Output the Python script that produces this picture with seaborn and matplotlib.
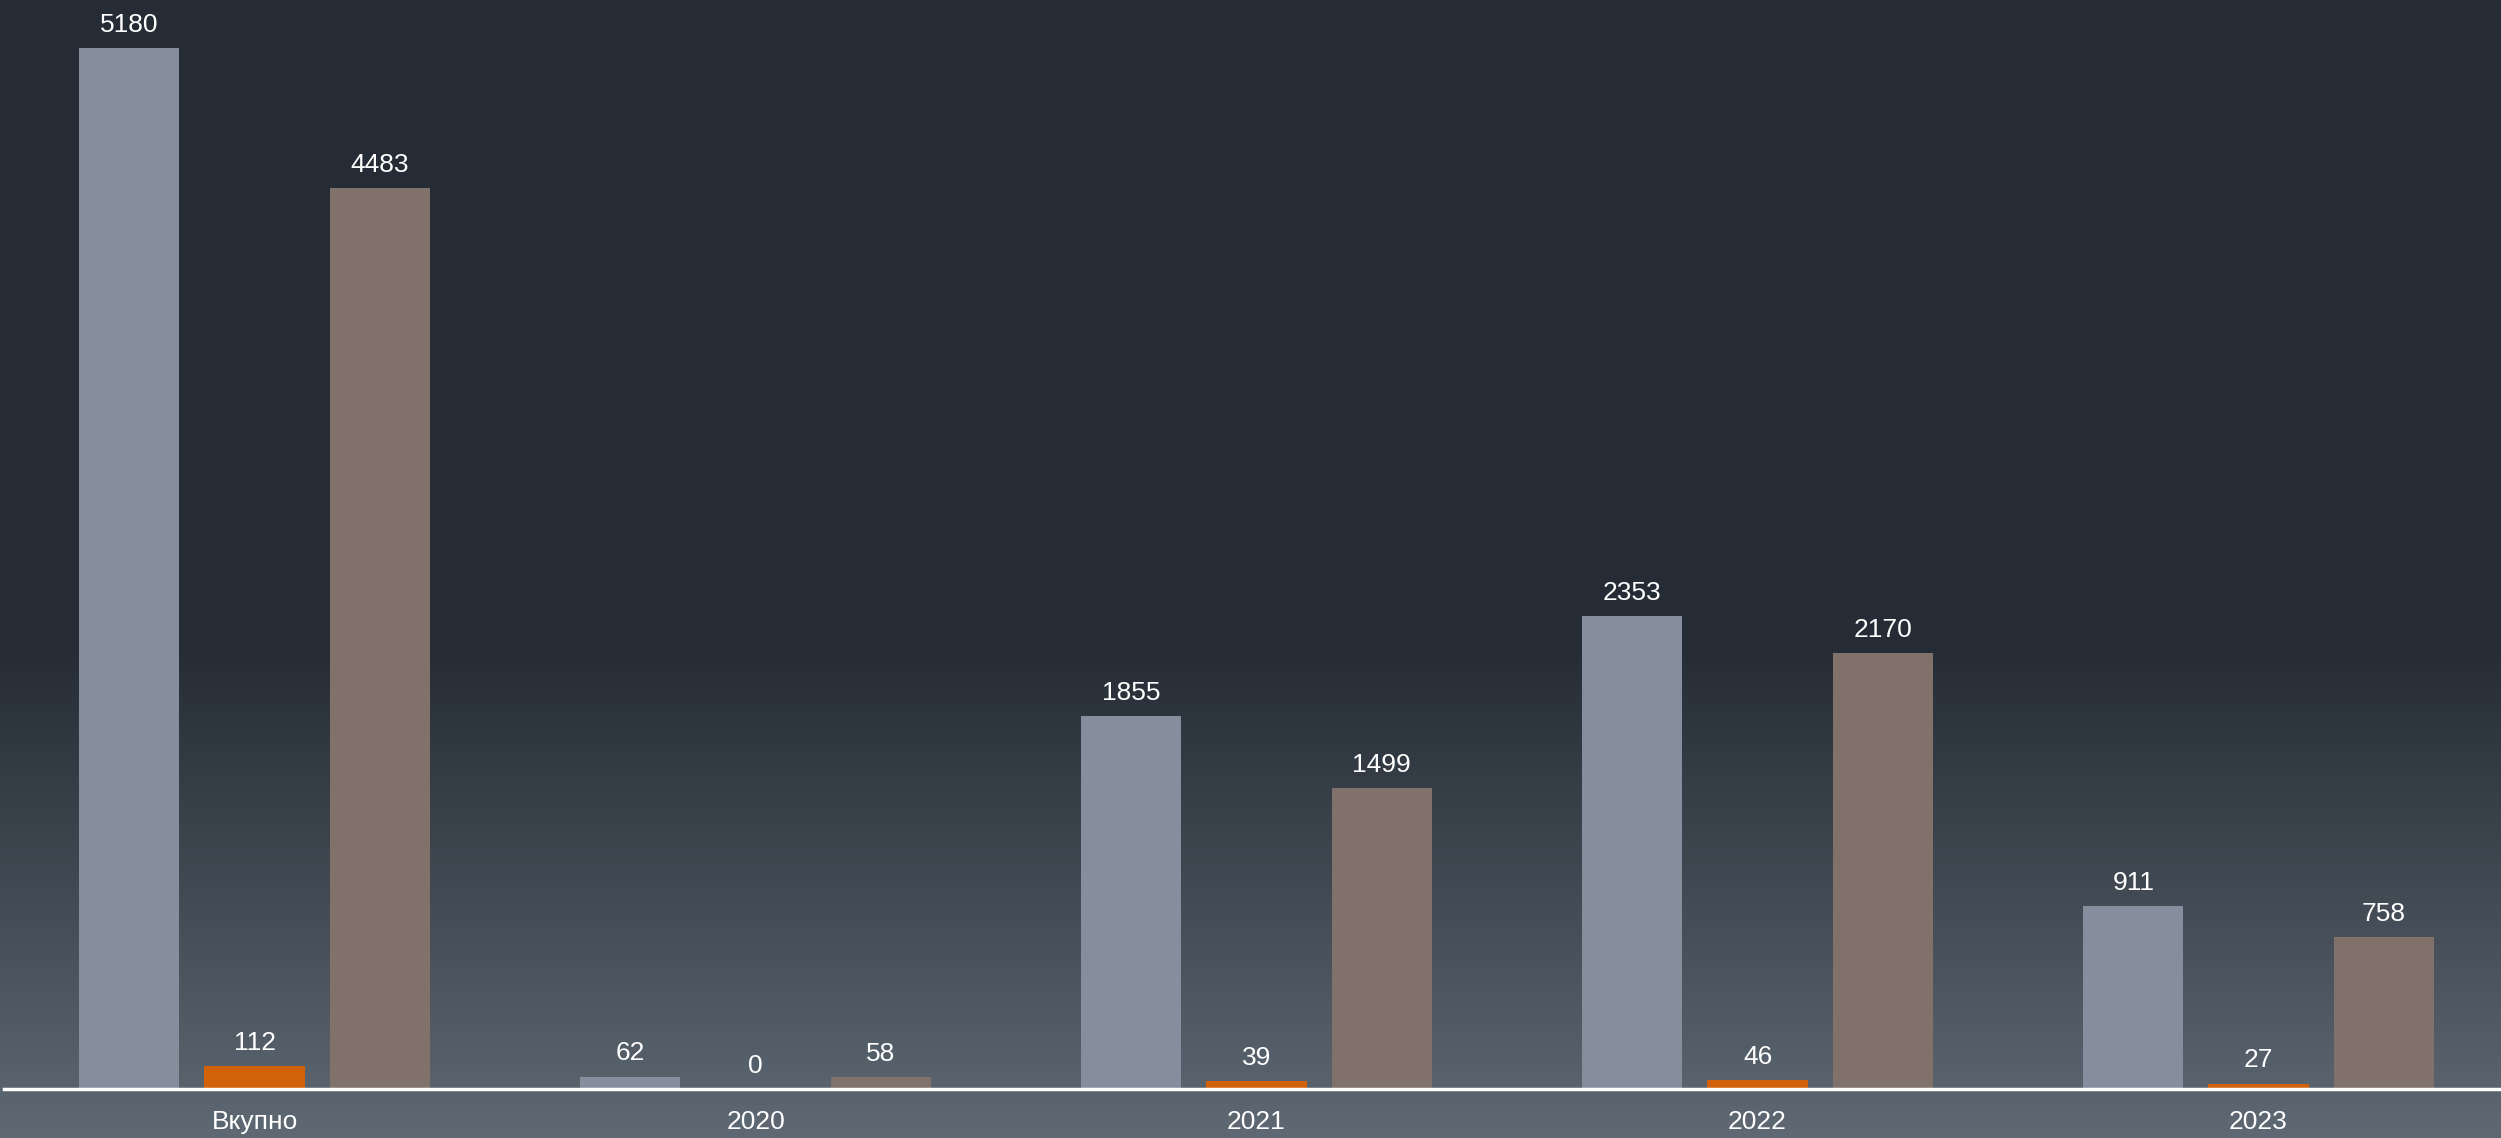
import numpy as np
import pandas as pd
import seaborn as sns
import matplotlib.pyplot as plt
from matplotlib.colors import LinearSegmentedColormap

sns.set_style('white')
plt.rcParams['font.family'] = ['Liberation Sans', 'DejaVu Sans']

# data
categories = ['Вкупно', '2020', '2021', '2022', '2023']
series = ['Серија 1', 'Серија 2', 'Серија 3']
values_1 = [5180, 62, 1855, 2353, 911]
values_2 = [112, 0, 39, 46, 27]
values_3 = [4483, 58, 1499, 2170, 758]
colors = ['#858e9c', '#d2620a', '#80726b']

df = pd.DataFrame({
    'category': categories * 3,
    'series': [s for s in series for _ in categories],
    'value': values_1 + values_2 + values_3,
})

fig = plt.figure(figsize=(25.01, 11.38), dpi=100)

# gradient background: dark on top, lighter slate towards the bottom
bg = fig.add_axes([0, 0, 1, 1], zorder=0)
rows = 1138
y = np.arange(rows)
t = np.clip((y - 645) / (rows - 645), 0, 1)
grad = np.tile(t[:, None], (1, 4))
cmap = LinearSegmentedColormap.from_list('bg', ['#252c35', '#5e6973'])
bg.imshow(grad, aspect='auto', cmap=cmap, extent=[0, 1, 0, 1], origin='upper',
          vmin=0, vmax=1, interpolation='nearest')
bg.set_axis_off()

ax = fig.add_axes([4 / 2501, 1 - 1089 / 1138, 2505 / 2501, 1089 / 1138], zorder=1)
ax.patch.set_alpha(0)
sns.barplot(data=df, x='category', y='value', hue='series', hue_order=series,
            order=categories, palette=colors, saturation=1, width=0.75, gap=0.2,
            errorbar=None, linewidth=0, ax=ax, legend=False)

for cont in ax.containers:
    ax.bar_label(cont, padding=8, color='white', fontsize=19)

ax.set_xlim(-0.5, 4.5)
ax.set_ylim(0, 5418)
ax.set_xlabel('')
ax.set_ylabel('')
ax.set_yticks([])
ax.tick_params(axis='x', length=0, pad=15, labelsize=19, labelcolor='white')
for s in ['top', 'right', 'left']:
    ax.spines[s].set_visible(False)
ax.spines['bottom'].set_color('white')
ax.spines['bottom'].set_linewidth(2.5)
ax.spines['bottom'].set_zorder(5)

fig.savefig('out.png', dpi=100)
